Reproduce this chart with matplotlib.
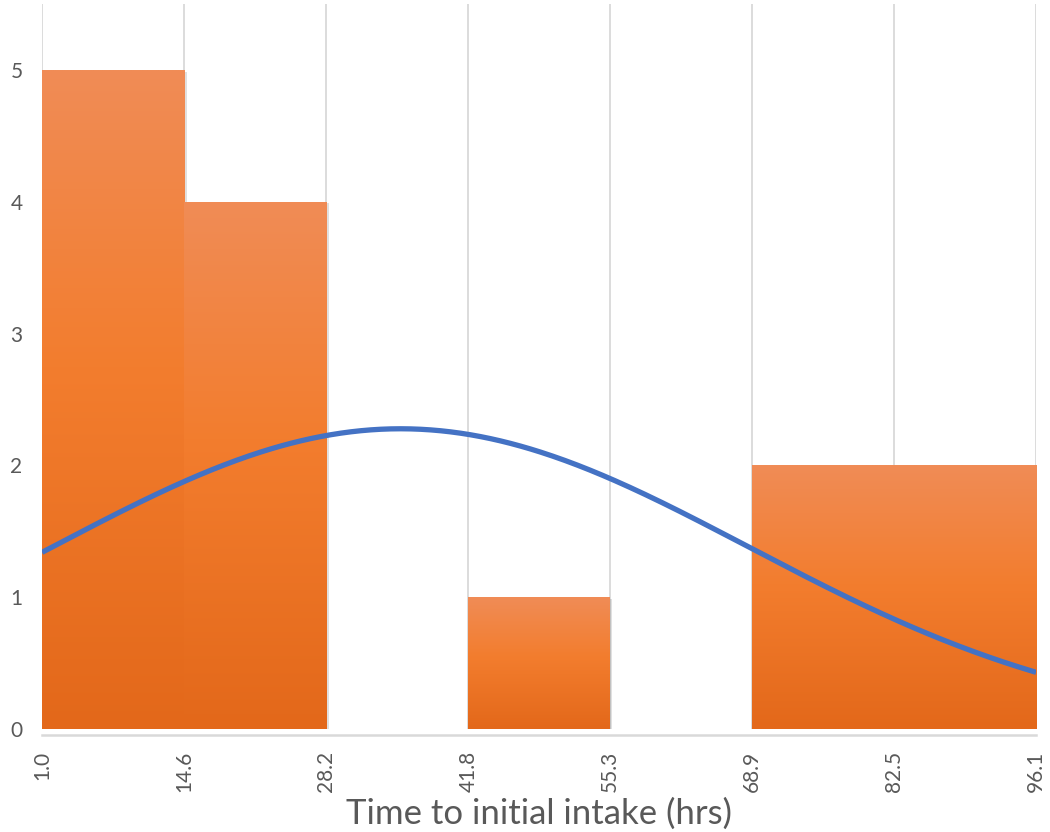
import numpy as np
import matplotlib
matplotlib.use("Agg")
import matplotlib.pyplot as plt
from matplotlib.colors import LinearSegmentedColormap
import matplotlib.patheffects as pe

# Histogram of time to initial intake
bin_edges = [1.0, 14.6, 28.2, 41.8, 55.3, 68.9, 82.5, 96.1]
edge_labels = ["1.0", "14.6", "28.2", "41.8", "55.3", "68.9", "82.5", "96.1"]
counts = [5, 4, 0, 1, 0, 2, 2]

# Fitted normal curve parameters (hours)
curve_mean = 35.3
curve_sd = 33.3

plt.rcParams["font.family"] = ["Lato", "DejaVu Sans"]
text_color = "#595959"
grid_color = "#D9D9D9"

fig = plt.figure(figsize=(10.5, 8.32), dpi=100)
ax = fig.add_axes([0.04, 0.1238, 0.9467, 0.871])

# axis frame first (moving a spine resets the tick setup)
for side in ("top", "right", "left"):
    ax.spines[side].set_visible(False)
ax.spines["bottom"].set_color(grid_color)
ax.spines["bottom"].set_linewidth(1.8)
ax.spines["bottom"].set_position(("outward", 4.5))

edges = np.array(bin_edges)
widths = np.diff(edges)
n_obs = sum(counts)

# bars, filled afterwards with a vertical orange gradient
bars = ax.bar(edges[:-1], counts, width=widths, align="edge",
              facecolor="none", edgecolor="none", zorder=2)
grad_cmap = LinearSegmentedColormap.from_list(
    "bar_grad", [(0.0, "#E3681A"), (0.55, "#F37D2E"), (1.0, "#F08C56")])
gradient = np.linspace(0, 1, 256).reshape(-1, 1)
for rect, c in zip(bars, counts):
    if c <= 0:
        continue
    x0, w, h = rect.get_x(), rect.get_width(), rect.get_height()
    shadow = plt.Rectangle((x0, 0), w, h, facecolor="#F37D2E", edgecolor="none",
                           zorder=1.9,
                           path_effects=[pe.SimplePatchShadow(offset=(2, -1),
                                                              shadow_rgbFace="#000000",
                                                              alpha=0.12),
                                         pe.Normal()])
    ax.add_patch(shadow)
    img = ax.imshow(gradient, cmap=grad_cmap, origin="lower", aspect="auto",
                    extent=(x0, x0 + w, 0, h), zorder=2.1, interpolation="bilinear")
    img.set_clip_path(rect)

# normal curve scaled to counts per bin
xs = np.linspace(edges[0], edges[-1], 400)
ys = n_obs * widths.mean() / (curve_sd * np.sqrt(2 * np.pi)) * \
    np.exp(-0.5 * ((xs - curve_mean) / curve_sd) ** 2)
ax.plot(xs, ys, color="#4472C4", lw=3.8, zorder=3, solid_capstyle="butt")

ax.set_xlim(edges[0], edges[-1])
ax.set_ylim(0, 5.5)

ax.set_xticks(edges)
ax.set_xticklabels(edge_labels, rotation=90, fontsize=15, color=text_color)
ax.set_yticks(range(0, 6))
ax.set_yticklabels([str(v) for v in range(0, 6)], fontsize=15, color=text_color)
ax.tick_params(axis="both", length=0)
ax.tick_params(axis="x", pad=11)
ax.tick_params(axis="y", pad=14)

ax.xaxis.grid(True, color=grid_color, lw=1.3, zorder=0)
ax.yaxis.grid(False)
ax.set_axisbelow(True)

ax.set_xlabel("Time to initial intake (hrs)", fontsize=25, color=text_color, labelpad=4)

fig.savefig("out.png", dpi=100, facecolor="white")
